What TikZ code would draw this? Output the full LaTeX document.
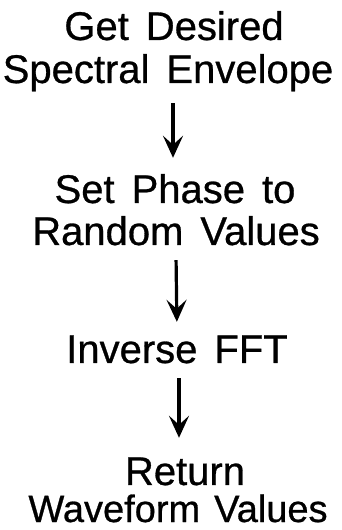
\documentclass[tikz,border=0pt]{standalone}
\usepackage{fontspec}
\setmainfont{Liberation Sans}
\newfontfamily\diagfont{Liberation Sans}[BoldFont={Liberation Sans}, BoldFeatures={FakeBold=0.7}]
\usetikzlibrary{arrows.meta}
\newcommand\mywordspace{\spaceskip=17pt plus 2pt minus 2pt\relax}
\newcommand\mysmallwordspace{\spaceskip=14pt plus 2pt minus 2pt\relax}
\begin{document}
\begin{tikzpicture}[x=1pt,y=1pt,
  txt/.style={inner sep=0pt, anchor=base, text height=30pt, text depth=9pt,
    font=\diagfont\bfseries\fontsize{40}{44}\selectfont\mywordspace},
  arr/.style={line width=3.2pt, -{Stealth[length=22pt,width=20pt,inset=9pt]}}]
\useasboundingbox (0,0) rectangle (342,530);
\node[txt] (a1) at (174,490) {Get Desired};
\node[txt] (a2) at (168,447) {Spectral Envelope};
\node[txt] (b1) at (175,327) {Set Phase to};
\node[txt] (b2) at (176,285) {Random Values};
\node[txt] (c1) at (177,167) {Inverse FFT};
\node[txt] (d1) at (185,45) {Return};
\node[txt, text height=28pt, text depth=0pt,
  font=\diagfont\bfseries\fontsize{38}{42}\selectfont\mysmallwordspace] (d2) at (178,8) {Waveform Values};
\draw[arr, shorten <=11pt, shorten >=15pt] ([xshift=5pt]a2.south) -- ([xshift=-2pt]b1.north);
\draw[arr, shorten <=6pt, shorten >=11pt] (b2.south) -- (c1.north);
\draw[arr, shorten <=6pt, shorten >=17pt] ([xshift=2pt]c1.south) -- ([xshift=-6pt]d1.north);
\end{tikzpicture}
\end{document}
